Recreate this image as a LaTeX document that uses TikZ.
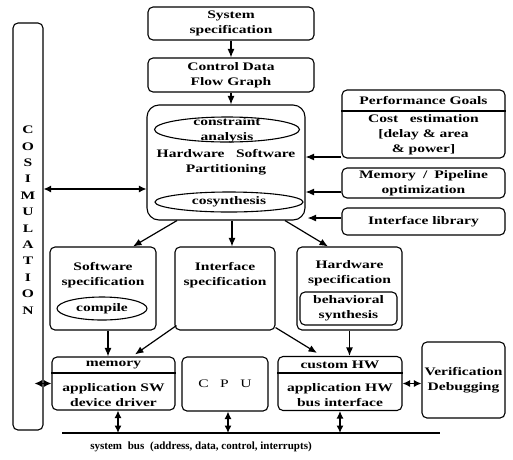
\documentclass[tikz,border=0pt]{standalone}
\usepackage{fontspec}
\setmainfont{Liberation Serif}[FakeStretch=1.35]
\newfontfamily\busfont{Liberation Serif}
\usetikzlibrary{arrows.meta,shapes,calc}

\begin{document}
\begin{tikzpicture}[x=1pt,y=-1pt,font=\fontsize{11.5}{15}\selectfont\bfseries]
  % Styles
  \tikzset{
    block/.style={draw, rounded corners=5pt, line width=1.1pt, align=center, inner sep=2pt},
    bigblock/.style={draw, rounded corners=12pt, line width=1.1pt, inner sep=0pt},
    oval/.style={draw, ellipse, line width=1.1pt, inner sep=0pt},
    txt/.style={align=center, inner sep=0pt},
    line/.style={-{Latex[length=8.5pt,width=7pt]}, line width=1.2pt},
    both/.style={{Latex[length=7.5pt,width=7pt]}-{Latex[length=7.5pt,width=7pt]}, line width=1.2pt},
  }
  \useasboundingbox (0,0) rectangle (513,459);

  % Top of the flow
  \node[block, minimum width=166, minimum height=33] (sysspec) at (231,23.5) {System\\specification};
  \node[block, minimum width=166, minimum height=34] (cdfg) at (231,75) {Control Data\\Flow Graph};

  % Partitioning
  \node[bigblock, minimum width=158, minimum height=115] (part) at (226,162.5) {};
  \node[oval, minimum width=145, minimum height=25] (consell) at (227,129.5) {};
  \node[txt] (constxt) at (227,130) {constraint\\analysis};
  \node[txt] (parttxt) at (226,162) {Hardware\quad Software\\Partitioning};
  \node[oval, minimum width=148, minimum height=20] (cosyn) at (229,202) {cosynthesis};

  % Cosimulation bar
  \node[block, minimum width=30, minimum height=407] (cosim) at (28,226.5) {};
  \node[txt, font=\fontsize{11.5}{16.4}\selectfont\bfseries] (cosimtxt) at (28,220)
    {C\\O\\S\\I\\M\\U\\L\\A\\T\\I\\O\\N};

  % Right column
  \node[block, minimum width=163, minimum height=68] (perf) at (423.5,124) {};
  \coordinate (perfcut) at (0,111);
  \draw[line width=1.1pt] (perf.west |- perfcut) -- (perf.east |- perfcut);
  \node[txt] (perftop) at (423.5,100.5) {Performance Goals};
  \node[txt] (perfcost) at (423.5,135) {Cost\quad estimation\\{}[delay \& area\\\& power]};
  \node[block, minimum width=163, minimum height=30] (mempipe) at (423.5,183) {Memory\; /\; Pipeline\\optimization};
  \node[block, minimum width=163, minimum height=27] (iflib) at (423.5,221.5) {Interface library};

  % Specifications
  \node[block, minimum width=106, minimum height=83] (swspec) at (103,288.5) {};
  \node[txt] (swtxt) at (103,275) {Software\\specification};
  \node[oval, minimum width=90, minimum height=23] (compile) at (102,308.5) {compile};
  \node[block, minimum width=100, minimum height=83] (ifspec) at (225,288.5) {};
  \node[txt] (iftxt) at (225,275) {Interface\\specification};
  \node[block, minimum width=105, minimum height=83] (hwspec) at (349.5,288.5) {};
  \node[txt] (hwtxt) at (349.5,273) {Hardware\\specification};
  \node[block, minimum width=97, minimum height=33] (behav) at (348.5,308.5) {behavioral\\synthesis};

  % Implementation row
  \node[block, minimum width=123, minimum height=53] (mem) at (113.5,383.5) {};
  \coordinate (rowcut) at (0,373);
  \draw[line width=1.1pt] (mem.west |- rowcut) -- (mem.east |- rowcut);
  \node[txt] (memtop) at (113.5,365) {memory};
  \node[txt] (memtxt) at (113.5,395) {application SW\\device driver};
  \node[block, minimum width=86, minimum height=54, font=\fontsize{11.5}{15}\selectfont\mdseries] (cpu) at (225,384) {C\quad P\quad U};
  \node[block, minimum width=124, minimum height=54] (chw) at (340,383.5) {};
  \draw[line width=1.1pt] (chw.west |- rowcut) -- (chw.east |- rowcut);
  \node[txt] (chwtop) at (340,364.5) {custom HW};
  \node[txt] (chwtxt) at (340,395) {application HW\\bus interface};
  \node[block, minimum width=83, minimum height=76] (verif) at (463.5,380) {Verification\\Debugging};

  % System bus
  \coordinate (busL) at (62,433);
  \coordinate (busR) at (440,433);
  \draw[line width=1.1pt] (busL) -- (busR);
  \node[txt, font=\busfont\fontsize{11}{13}\selectfont\bfseries] (bustxt) at (201,447)
    {system\; bus\; (address, data, control, interrupts)};

  % Edges
  \draw[line] (sysspec) -- (cdfg);
  \draw[line] (cdfg.south) -- (cdfg.south |- part.north);
  \coordinate (cosarr) at (0,189);
  \draw[both] (cosim.east |- cosarr) -- (part.west |- cosarr);
  \coordinate (pa) at (0,157);
  \coordinate (pb) at (0,192);
  \coordinate (pc) at (0,218);
  \draw[line] (perf.west |- pa) -- (part.east |- pa);
  \draw[line] (mempipe.west |- pb) -- (part.east |- pb);
  \draw[line] (iflib.west |- pc) -- ([xshift=2pt]part.east |- pc);

  \draw[line] ($(part.south)+(-49,0)$) -- ($(swspec.north)+(30,0)$);
  \coordinate (ifx) at ($(part.south)+(6,0)$);
  \draw[line] (ifx) -- (ifx |- ifspec.north);
  \draw[line] ($(part.south)+(59,0)$) -- ($(hwspec.north)+(-21.5,0)$);

  \coordinate (swx) at ($(swspec.south)+(5,0)$);
  \draw[line] (swx) -- (swx |- mem.north);
  \draw[line] ($(ifspec.south west)+(2,-5)$) -- ($(mem.north)+(21.5,-2)$);
  \draw[line] ($(ifspec.south east)+(0,-3)$) -- ($(chw.north)+(-23,-3)$);
  \draw[line] (hwspec.south) -- (hwspec.south |- chw.north);

  \draw[both] (chw.east) -- (verif.west |- chw.east);
  \draw[both] ([xshift=-9pt]cosim.east |- mem.west) -- (mem.west);

  \coordinate (memx) at ($(mem.south)+(4.5,0)$);
  \coordinate (cpux) at ($(cpu.south)+(3,0)$);
  \draw[both] (memx) -- (memx |- busL);
  \draw[both] (cpux) -- (cpux |- busL);
  \draw[both] (chw.south) -- (chw.south |- busL);
\end{tikzpicture}
\end{document}
